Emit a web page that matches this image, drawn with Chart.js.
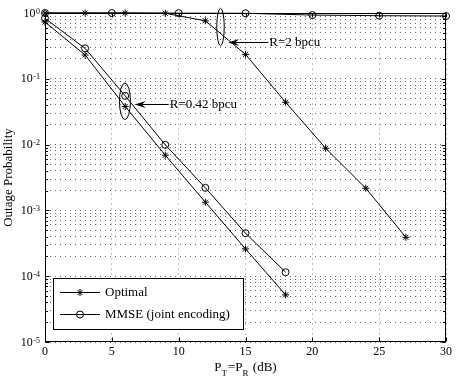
<!DOCTYPE html>
<html><head><meta charset="utf-8">
<script src="https://cdn.jsdelivr.net/npm/chart.js@4"></script>
<style>html,body{margin:0;padding:0;background:#fff}canvas{display:block}</style>
</head><body>
<canvas id="c" width="457" height="380"></canvas>
<script>
// ---- data ----
const snrR042 = [0, 3, 6, 9, 12, 15, 18];
const optimalR042 = [0.73, 0.23, 0.038, 0.0069, 0.00133, 0.00026, 0.000052];
const mmseR042 = [0.83, 0.29, 0.055, 0.0099, 0.0022, 0.00045, 0.000115];
const snrOptR2 = [0, 3, 6, 9, 12, 15, 18, 21, 24, 27];
const optimalR2 = [1, 1, 1, 0.99, 0.76, 0.235, 0.044, 0.0088, 0.00217, 0.00039];
const snrMmseR2 = [0, 5, 10, 15, 20, 25, 30];
const mmseR2 = [1, 1, 0.995, 0.99, 0.93, 0.91, 0.90];
const xTicks = [0, 5, 10, 15, 20, 25, 30];
const yExponents = [0, -1, -2, -3, -4, -5];
const seriesNames = ['Optimal', 'MMSE (joint encoding)'];
const annotationTexts = ['R=0.42 bpcu', 'R=2 bpcu'];
// annotation anchors in data coordinates
const ellipse042 = {x0: 5.57, x1: 6.39, y0: 0.0863, y1: 0.0240};
const arrow042 = {xTip: 6.72, xEnd: 9.25, y: 0.0414};
const ellipse2 = {x0: 12.85, x1: 13.41, y0: 1.18, y1: 0.318};
const arrow2 = {xTip: 13.7, xEnd: 16.7, y: 0.36};

const FONT = '"Liberation Serif", "Times New Roman", serif';
const pts = (xs, ys) => xs.map((v, i) => ({x: v, y: ys[i]}));
const base = {borderColor: '#000', borderWidth: 1, pointBorderColor: '#000', pointBorderWidth: 1,
  pointBackgroundColor: 'rgba(0,0,0,0)', pointRadius: 3.5, pointHoverRadius: 3.5, clip: false, tension: 0, fill: false};

const deco = {
  id: 'deco',
  afterDatasetsDraw(chart) {
    const {ctx, chartArea: a, scales: {x, y}} = chart;
    const L = Math.round(a.left) + 0.5, R = Math.round(a.right) - 0.5;
    const T = Math.round(a.top) + 0.5, B = Math.round(a.bottom) - 0.5;
    ctx.save();
    ctx.strokeStyle = '#000'; ctx.lineWidth = 1; ctx.setLineDash([]);
    // tick marks (inside, MATLAB style)
    ctx.beginPath();
    xTicks.forEach(v => {
      const px = Math.round(x.getPixelForValue(v)) + 0.5;
      ctx.moveTo(px, B); ctx.lineTo(px, B - 4);
      ctx.moveTo(px, T); ctx.lineTo(px, T + 4);
    });
    for (let e = -5; e <= 0; e++) {
      for (let m = 1; m <= 9; m++) {
        const v = m * Math.pow(10, e);
        if (v > 1) continue;
        const py = Math.round(y.getPixelForValue(v)) + 0.5;
        const len = m === 1 ? 4 : 2.5;
        ctx.moveTo(L, py); ctx.lineTo(L + len, py);
        ctx.moveTo(R, py); ctx.lineTo(R - len, py);
      }
    }
    ctx.stroke();
    // frame
    ctx.strokeRect(L, T, R - L, B - T);

    // annotations
    const drawEllipse = (el) => {
      const x0 = x.getPixelForValue(el.x0), x1 = x.getPixelForValue(el.x1);
      const y0 = y.getPixelForValue(el.y0), y1 = y.getPixelForValue(el.y1);
      ctx.beginPath();
      ctx.ellipse((x0 + x1) / 2, (y0 + y1) / 2, Math.abs(x1 - x0) / 2, Math.abs(y1 - y0) / 2, 0, 0, Math.PI * 2);
      ctx.stroke();
    };
    const drawArrow = (ar, text) => {
      const xt = x.getPixelForValue(ar.xTip), xe = x.getPixelForValue(ar.xEnd);
      const py = Math.round(y.getPixelForValue(ar.y)) + 0.5;
      ctx.beginPath(); ctx.moveTo(xt + 6, py); ctx.lineTo(xe, py); ctx.stroke();
      ctx.beginPath();
      ctx.moveTo(xt, py); ctx.lineTo(xt + 11, py - 3.5); ctx.lineTo(xt + 7, py); ctx.lineTo(xt + 11, py + 3.5);
      ctx.closePath(); ctx.fillStyle = '#000'; ctx.fill();
      ctx.font = '13px ' + FONT; ctx.textAlign = 'left'; ctx.textBaseline = 'middle';
      ctx.fillText(text, xe + 1, py + 0.5);
    };
    drawEllipse(ellipse042); drawEllipse(ellipse2);
    drawArrow(arrow042, annotationTexts[0]);
    drawArrow(arrow2, annotationTexts[1]);

    // tick labels
    ctx.fillStyle = '#000';
    ctx.font = '12px ' + FONT; ctx.textAlign = 'center'; ctx.textBaseline = 'middle';
    xTicks.forEach(v => ctx.fillText(String(v), x.getPixelForValue(v), a.bottom + 10));
    yExponents.forEach(e => {
      const py = y.getPixelForValue(Math.pow(10, e));
      const sup = String(e);
      ctx.font = '8px ' + FONT; ctx.textAlign = 'right'; ctx.textBaseline = 'alphabetic';
      const w = ctx.measureText(sup).width;
      ctx.fillText(sup, a.left - 5, py + 0.5);
      ctx.font = '12px ' + FONT; ctx.textBaseline = 'middle';
      ctx.fillText('10', a.left - 5 - w - 0.5, py + 0.5);
    });

    // axis titles
    ctx.font = '13px ' + FONT; ctx.textAlign = 'center'; ctx.textBaseline = 'middle';
    ctx.save(); ctx.translate(9, (a.top + a.bottom) / 2); ctx.rotate(-Math.PI / 2);
    ctx.fillText('Outage Probability', 0, 0); ctx.restore();
    const parts = [['P', 13, 0], ['T', 9, 5], ['=P', 13, 0], ['R', 9, 5], [' (dB)', 13, 0]];
    let total = 0;
    parts.forEach(p => { ctx.font = p[1] + 'px ' + FONT; total += ctx.measureText(p[0]).width + (p[1] === 9 ? 1 : 0); });
    let cx = (a.left + a.right) / 2 - total / 2;
    ctx.textAlign = 'left'; ctx.textBaseline = 'alphabetic';
    parts.forEach(p => {
      ctx.font = p[1] + 'px ' + FONT;
      ctx.fillText(p[0], cx, 371 + p[2]);
      cx += ctx.measureText(p[0]).width + (p[1] === 9 ? 1 : 0);
    });

    // legend
    const lx = 53.5, ly = 278.5, lw = 190, lh = 51;
    ctx.fillStyle = '#fff'; ctx.fillRect(lx, ly, lw, lh);
    ctx.strokeStyle = '#000'; ctx.strokeRect(lx, ly, lw, lh);
    const styles = ['star', 'circle'];
    [292.5, 314.5].forEach((ry, i) => {
      ctx.strokeStyle = '#000'; ctx.lineWidth = 1;
      ctx.beginPath(); ctx.moveTo(60, ry); ctx.lineTo(100, ry); ctx.stroke();
      ctx.fillStyle = 'rgba(0,0,0,0)';
      Chart.helpers.drawPoint(ctx, {pointStyle: styles[i], radius: 3.5, borderWidth: 1, rotation: 0}, 80, ry);
      ctx.fillStyle = '#000'; ctx.font = '13px ' + FONT; ctx.textAlign = 'left'; ctx.textBaseline = 'middle';
      ctx.fillText(seriesNames[i], 105, ry);
    });
    ctx.restore();
  }
};

new Chart(document.getElementById('c'), {
  type: 'line',
  data: {
    datasets: [
      Object.assign({}, base, {label: seriesNames[0], data: pts(snrR042, optimalR042), pointStyle: 'star'}),
      Object.assign({}, base, {label: seriesNames[1], data: pts(snrR042, mmseR042), pointStyle: 'circle'}),
      Object.assign({}, base, {label: seriesNames[0], data: pts(snrOptR2, optimalR2), pointStyle: 'star'}),
      Object.assign({}, base, {label: seriesNames[1], data: pts(snrMmseR2, mmseR2), pointStyle: 'circle'})
    ]
  },
  options: {
    responsive: false, animation: false, devicePixelRatio: 1,
    layout: {padding: {left: 45, top: 13, right: 11, bottom: 38}},
    plugins: {legend: {display: false}, tooltip: {enabled: false}},
    events: [],
    scales: {
      x: {type: 'linear', min: 0, max: 30,
        afterBuildTicks: s => { s.ticks = xTicks.map(v => ({value: v})); },
        ticks: {display: false, autoSkip: false},
        grid: {drawTicks: false, color: '#c4c4c4', lineWidth: 1},
        border: {display: false, dash: [2, 3]}},
      y: {type: 'logarithmic', min: 1e-5, max: 1,
        afterBuildTicks: s => {
          const t = [];
          for (let e = -5; e <= 0; e++) for (let m = 1; m <= 9; m++) { const v = m * Math.pow(10, e); if (v <= 1) t.push({value: v}); }
          s.ticks = t;
        },
        ticks: {display: false, autoSkip: false},
        grid: {drawTicks: false, color: '#6a6a6a', lineWidth: 1},
        border: {display: false, dash: [1, 4]}}
    }
  },
  plugins: [deco]
});
</script>
</body></html>
